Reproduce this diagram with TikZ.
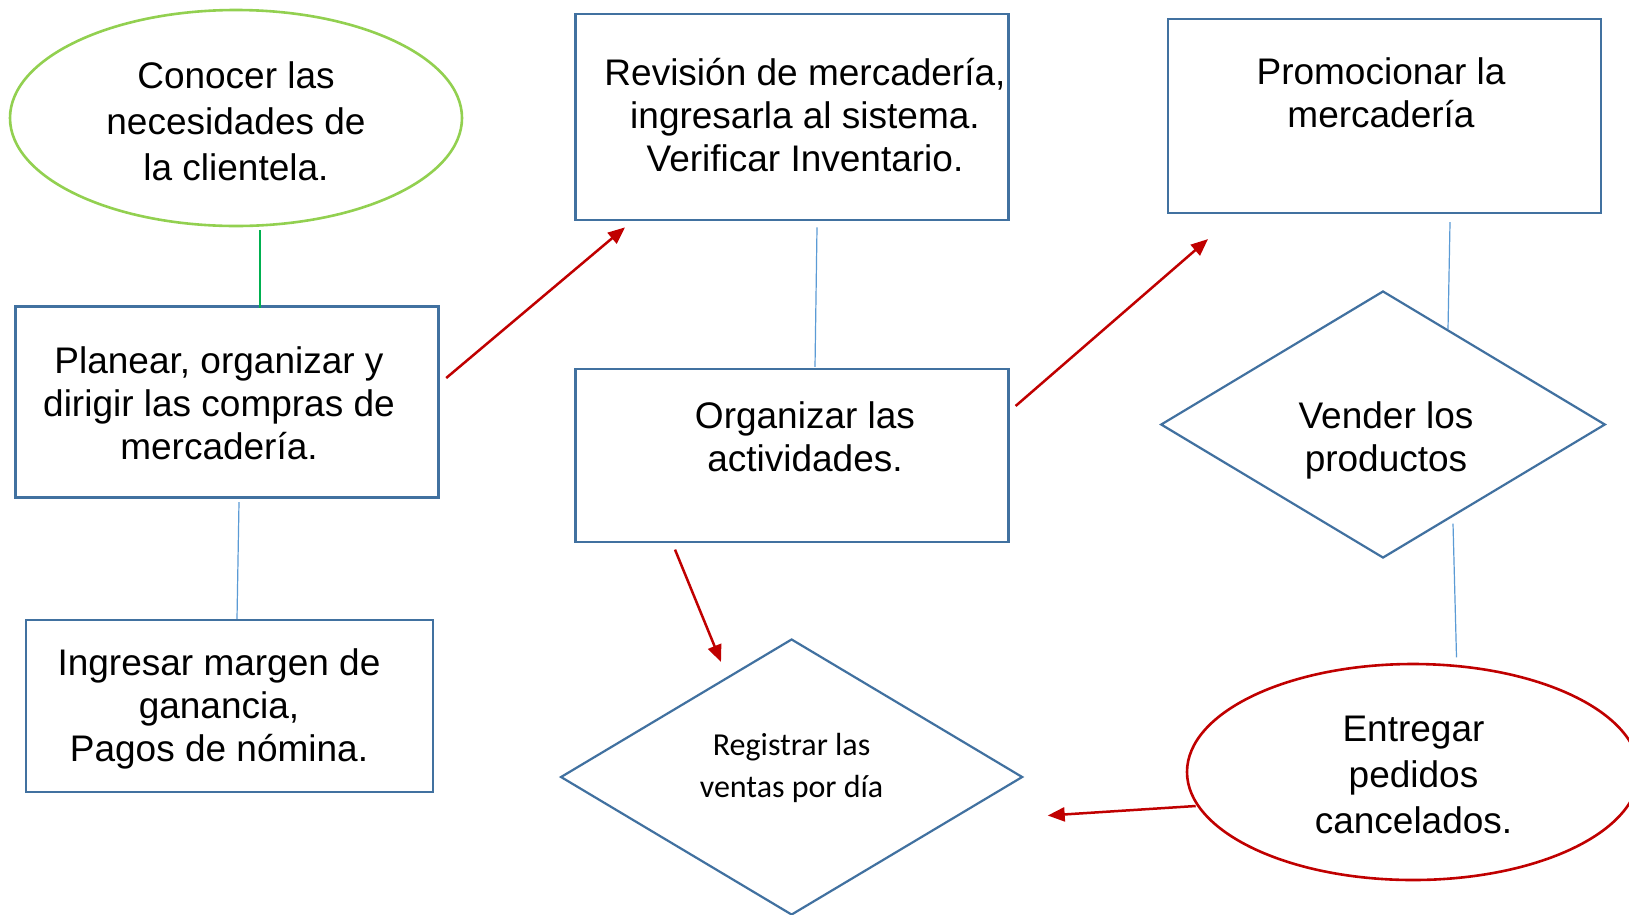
\documentclass[tikz,border=0pt]{standalone}
\usepackage{fontspec}
\setmainfont{Liberation Sans}
\newfontfamily\carl{Carlito}
\usetikzlibrary{shapes.geometric,arrows.meta}
\definecolor{boxblue}{RGB}{65,113,160}
\definecolor{linkblue}{RGB}{91,155,213}
\definecolor{lgreen}{RGB}{146,208,80}
\definecolor{dgreen}{RGB}{0,176,80}
\definecolor{dred}{RGB}{192,0,0}
\begin{document}
\begin{tikzpicture}[x=1pt,y=-1pt,
  stepbox/.style={draw=boxblue,line width=2.2pt,rectangle,inner sep=0pt},
  decision/.style={draw=boxblue,line width=2.2pt,diamond,inner sep=0pt},
  oval/.style={ellipse,line width=2.6pt,inner sep=0pt,minimum width=452pt,minimum height=216pt},
  txt/.style={align=center,text=black,inner sep=0pt,font=\fontsize{37}{43}\selectfont},
  txtov/.style={align=center,text=black,inner sep=0pt,font=\fontsize{37}{46}\selectfont},
  redarrow/.style={draw=dred,line width=2.5pt,-{Triangle[length=17pt,width=14pt]}},
  bluelink/.style={draw=linkblue,line width=1.2pt},
  greenlink/.style={draw=dgreen,line width=2.2pt}]
\useasboundingbox (0,0) rectangle (1629,914);
\fill[white] (0,0) rectangle (1629,914);

% shapes
\node[oval,draw=lgreen] (conocer) at (236,118) {};
\node[stepbox,minimum width=423pt,minimum height=191pt] (planear) at (227,402) {};
\node[stepbox,minimum width=407pt,minimum height=172pt] (ingresar) at (229.5,706) {};
\node[stepbox,minimum width=433pt,minimum height=206.5pt] (revision) at (792,117) {};
\node[stepbox,minimum width=433pt,minimum height=173pt] (organizar) at (792,455.5) {};
\node[decision,minimum width=462pt,minimum height=276pt] (registrar) at (791.6,777) {};
\node[stepbox,minimum width=433pt,minimum height=194pt] (promocionar) at (1384.5,116) {};
\node[decision,minimum width=444.5pt,minimum height=267pt] (vender) at (1383,424.5) {};
\node[oval,draw=dred] (entregar) at (1413,772) {};

% texts
\node[txtov] (tconocer) at (236,121) {Conocer las\\necesidades de\\la clientela.};
\node[txt] (tplanear) at (219,403) {Planear, organizar y\\dirigir las compras de\\mercadería.};
\node[txt] (tingresar) at (219,709) {Ingresar margen de\\ganancia,\\Pagos de nómina.};
\node[txt] (trevision) at (805,115) {Revisión de mercadería,\\ingresarla al sistema.\\Verificar Inventario.};
\node[txt] (torganizar) at (805,437) {Organizar las\\actividades.};
\node[txt] (tpromo) at (1381,93) {Promocionar la\\mercadería};
\node[txt] (tvender) at (1386,440) {Vender los\\productos};
\node[txtov] (tentregar) at (1413.5,775) {Entregar\\pedidos\\cancelados.};
\node[align=center,inner sep=0pt,font=\carl\fontsize{32}{42}\selectfont] (tregistrar) at (791.6,768) {Registrar las\\ventas por día};

% connectors
\draw[greenlink] ([xshift=24pt,yshift=-3pt]conocer.south) -- ([xshift=33pt,yshift=-2.5pt]planear.north);
\draw[bluelink] ([xshift=12pt,yshift=-3.4pt]planear.south) -- ([xshift=7.5pt]ingresar.north);
\draw[redarrow] ([xshift=6.6pt,yshift=24pt]planear.east) -- ([xshift=-167pt,yshift=-6pt]revision.south);
\draw[bluelink] ([xshift=25pt,yshift=-6pt]revision.south) -- ([xshift=23pt,yshift=1pt]organizar.north);
\draw[redarrow] ([xshift=-117pt,yshift=-6.5pt]organizar.south) -- ([xshift=-70.6pt,yshift=-24pt]registrar.north);
\draw[redarrow] ([xshift=6pt,yshift=49.5pt]organizar.east) -- ([xshift=-176.5pt,yshift=-25pt]promocionar.south);
\draw[bluelink] ([xshift=65.5pt,yshift=-8pt]promocionar.south) -- ([xshift=65pt,yshift=-39pt]vender.north);
\draw[bluelink] ([xshift=70pt,yshift=35.4pt]vender.south) -- ([xshift=43.5pt,yshift=5.3pt]entregar.north);
\draw[redarrow] ([xshift=10pt,yshift=-34pt]entregar.west) -- ([xshift=24pt,yshift=-38.5pt]registrar.east);
\end{tikzpicture}
\end{document}
